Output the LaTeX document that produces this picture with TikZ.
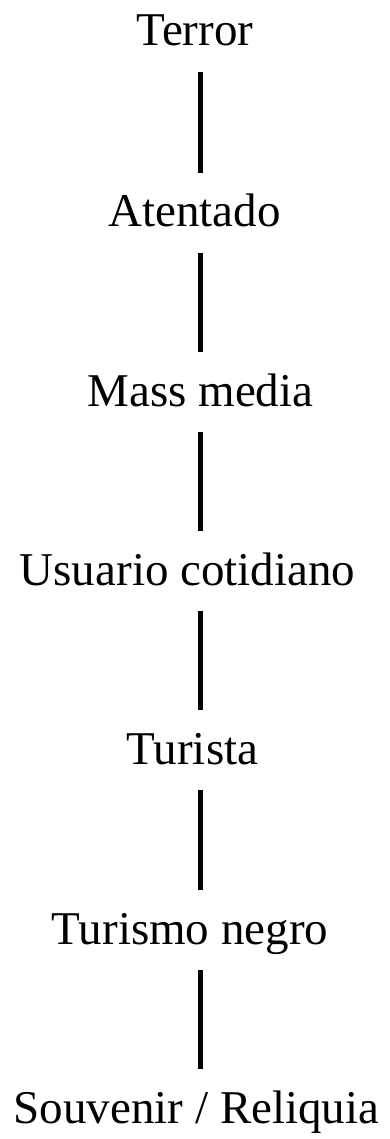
\documentclass[tikz,border=0pt]{standalone}
\usepackage{fontspec}
\setmainfont{Liberation Serif}
\begin{document}
\begin{tikzpicture}[x=1pt,y=1pt,
  lbl/.style={anchor=base,inner sep=0pt,outer sep=0pt,text height=32pt,text depth=0pt,font=\fontsize{47}{50}\selectfont},
  conn/.style={line width=5pt,shorten <=26pt,shorten >=22pt}]
\useasboundingbox (0,0) rectangle (390,-1139);
\node[lbl] (t1) at (195,-46) {Terror};
\node[lbl] (t2) at (194.5,-227) {Atentado};
\node[lbl] (t3) at (200.5,-406) {Mass media};
\node[lbl] (t4) at (187.5,-585) {Usuario cotidiano};
\node[lbl] (t5) at (192.5,-764) {Turista};
\node[lbl] (t6) at (190,-944) {Turismo negro};
\node[lbl] (t7) at (196.5,-1123) {Souvenir / Reliquia};
\coordinate (x) at (200.5,0);
\foreach \a/\b in {t1/t2,t2/t3,t3/t4,t4/t5,t5/t6,t6/t7}{
  \draw[conn] (x |- \a.south) -- (x |- \b.north);
}
\end{tikzpicture}
\end{document}
